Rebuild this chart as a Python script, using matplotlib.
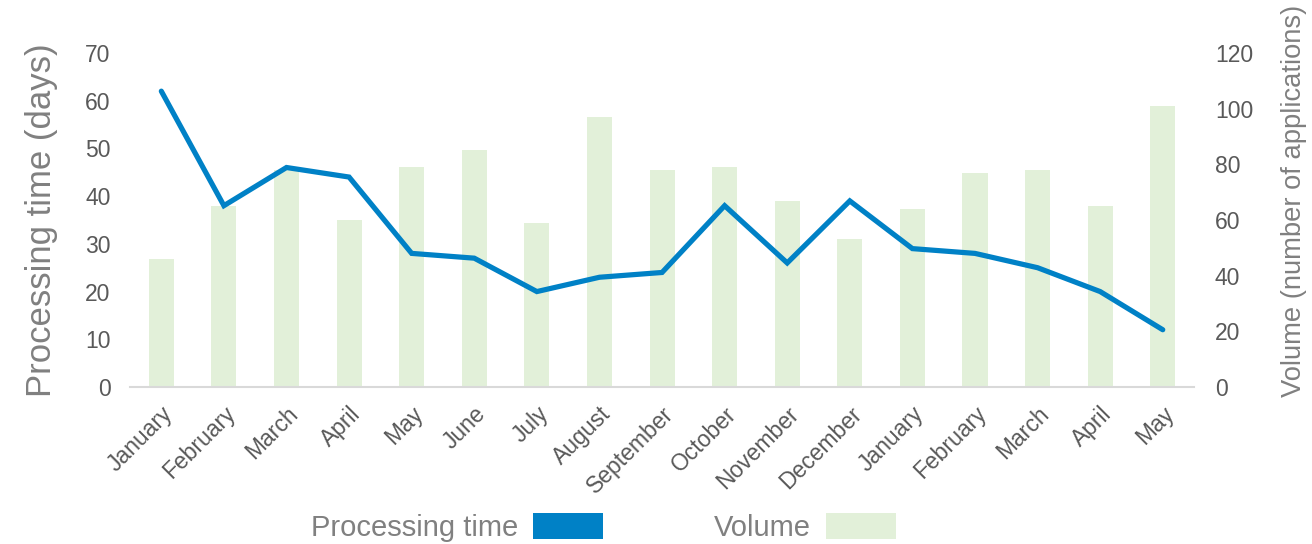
import matplotlib
matplotlib.use("Agg")
import matplotlib.pyplot as plt
from matplotlib.patches import Patch
import numpy as np

plt.rcParams['font.family'] = ['Liberation Sans', 'DejaVu Sans']

months = ["January", "February", "March", "April", "May", "June", "July", "August",
          "September", "October", "November", "December", "January", "February",
          "March", "April", "May"]
processing_time = [62, 38, 46, 44, 28, 27, 20, 23, 24, 38, 26, 39, 29, 28, 25, 20, 12]
volume = [46, 65, 78, 60, 79, 85, 59, 97, 78, 79, 67, 53, 64, 77, 78, 65, 101]

line_color = "#0081C6"
bar_color = "#E2F0D9"
tick_color = "#595959"
label_color = "#808080"

fig = plt.figure(figsize=(13.12, 5.44), dpi=100)
ax = fig.add_axes([0.0991, 0.2886, 0.811, 0.614])
ax2 = ax.twinx()

x = np.arange(len(months))
ax2.bar(x, volume, width=0.4, color=bar_color, zorder=1)
ax.plot(x, processing_time, color=line_color, linewidth=3.75, solid_capstyle='round',
        solid_joinstyle='miter', zorder=3)

ax.set_zorder(ax2.get_zorder() + 1)
ax.patch.set_visible(False)

ax.set_xlim(-0.5, len(months) - 0.5)
ax.set_ylim(0, 70)
ax2.set_ylim(0, 120)
ax.set_yticks(range(0, 71, 10))
ax2.set_yticks(range(0, 121, 20))

for a in (ax, ax2):
    for s in a.spines.values():
        s.set_visible(False)
ax.spines['bottom'].set_visible(True)
ax.spines['bottom'].set_color("#D9D9D9")
ax.spines['bottom'].set_linewidth(1.5)

ax.set_xticks(x)
ax.set_xticklabels(months, rotation=45, ha='right', rotation_mode='anchor')
ax.tick_params(axis='x', length=0, pad=11, labelsize=16.5, labelcolor=tick_color)
ax.tick_params(axis='y', length=0, pad=14, labelsize=16.5, labelcolor=tick_color)
ax2.tick_params(axis='y', length=0, pad=15, labelsize=16.5, labelcolor=tick_color)

ax.set_ylabel("Processing time (days)", fontsize=25, color=label_color)
ax.yaxis.set_label_coords(-0.068, 0.5)
ax2.set_ylabel("Volume (number of applications)", fontsize=19.75, color=label_color)
ax2.yaxis.set_label_coords(1.082, 0.557)

handles = [Patch(facecolor=line_color, edgecolor='none', label="Processing time"),
           Patch(facecolor=bar_color, edgecolor='none', label="Volume")]
fig.legend(handles=handles, loc='center', bbox_to_anchor=(0.46, 0.031), ncol=2,
           frameon=False, markerfirst=False, fontsize=21, labelcolor=label_color,
           handlelength=2.4, handleheight=1.0, handletextpad=0.5, columnspacing=3.8)

fig.savefig("out.png", dpi=100)
